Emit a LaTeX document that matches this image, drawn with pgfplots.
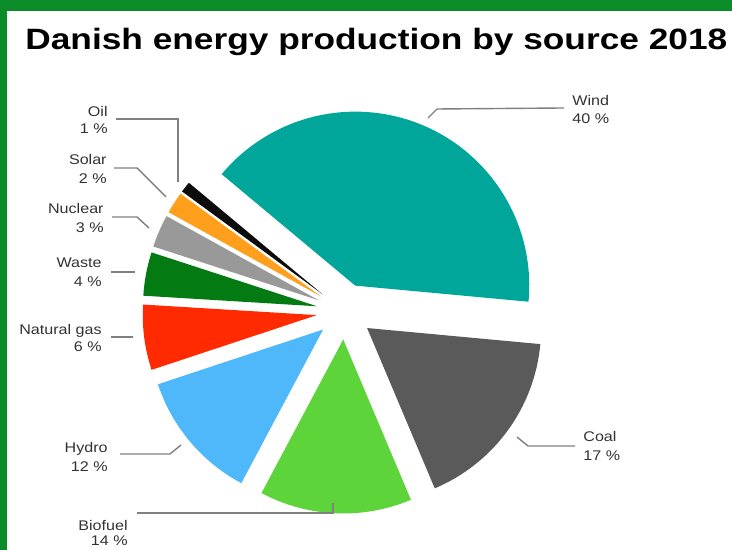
\documentclass[border=0pt]{standalone}
\usepackage{pgfplots}
\pgfplotsset{compat=1.18}
\usepackage{fontspec}
\setmainfont{Liberation Sans}
\newfontfamily\titfont[FakeStretch=1.2]{Liberation Sans}
\newfontfamily\labfont[FakeStretch=1.15]{Liberation Sans}
\definecolor{bandgreen}{RGB}{12,140,40}
\definecolor{windc}{RGB}{0,166,154}
\definecolor{coalc}{RGB}{90,90,90}
\definecolor{bioc}{RGB}{92,212,58}
\definecolor{hydroc}{RGB}{78,184,250}
\definecolor{gasc}{RGB}{255,42,0}
\definecolor{wastec}{RGB}{4,122,18}
\definecolor{nucc}{RGB}{153,153,153}
\definecolor{solarc}{RGB}{255,159,28}
\definecolor{oilc}{RGB}{12,12,12}
\definecolor{leadc}{RGB}{128,128,128}
\definecolor{labc}{RGB}{51,51,51}
\begin{document}
\begin{tikzpicture}
\begin{axis}[
  x=0.5pt, y=0.5pt,
  xmin=0, xmax=732, ymin=0, ymax=550,
  hide axis, clip=false,
]
% background
\fill[white] (axis cs:0,0) rectangle (axis cs:732,550);
\fill[bandgreen] (axis cs:0,0) rectangle (axis cs:7.3,550);
\fill[bandgreen] (axis cs:0,539) rectangle (axis cs:732,550);
% title
\node[anchor=base west, inner sep=0pt, text=black] at (axis cs:25,500.5)
  {\titfont\bfseries\fontsize{14.7}{16}\selectfont Danish energy production by source 2018};
% pie slices (percentages, counter-clockwise from Wind)
\xdef\curang{-5.3}
\foreach \p/\col in {40/windc,1/oilc,2/solarc,3/nucc,4/wastec,6/gasc,12/hydroc,14/bioc,17/coalc}{
  \pgfmathsetmacro\aA{\curang}
  \pgfmathsetmacro\aB{\curang+\p*360/99}
  \pgfmathsetmacro\aM{(\aA+\aB)/2}
  \pgfmathsetmacro\px{344.5+28*cos(\aM)}
  \pgfmathsetmacro\py{238.5+28*sin(\aM)}
  \edef\doslice{\noexpand\fill[\col] (axis cs:\px,\py) -- ++(\aA:87pt) arc[start angle=\aA,end angle=\aB,radius=87pt] -- cycle;}
  \doslice
  \xdef\curang{\aB}
}
% leader lines
\begin{scope}[leadc, line width=0.7pt]
\draw (axis cs:564,442) -- (axis cs:437,441) -- (axis cs:428,432);
\draw (axis cs:575,104) -- (axis cs:528,104) -- (axis cs:517,113);
\draw (axis cs:116,431) -- (axis cs:178,431) -- (axis cs:178,368);
\draw (axis cs:114,382) -- (axis cs:137,382) -- (axis cs:166,353);
\draw (axis cs:112,333) -- (axis cs:137,333) -- (axis cs:149,322);
\draw (axis cs:111,278) -- (axis cs:135,278);
\draw (axis cs:111,213) -- (axis cs:133,213);
\draw (axis cs:120,96) -- (axis cs:170,96) -- (axis cs:181,105);
\draw (axis cs:137,37) -- (axis cs:333,37) -- (axis cs:333,47);
\end{scope}
% labels
\begin{scope}[every node/.style={inner sep=0pt, text=labc, font=\labfont\fontsize{7}{8.4}\selectfont}]
\node[anchor=base west] at (axis cs:572,444) {Wind};
\node[anchor=base west] at (axis cs:572,426) {40 \%};
\node[anchor=base west] at (axis cs:583,108) {Coal};
\node[anchor=base west] at (axis cs:583,89) {17 \%};
\node[anchor=base east] at (axis cs:108,433) {Oil};
\node[anchor=base east] at (axis cs:108,416) {1 \%};
\node[anchor=base east] at (axis cs:107,385) {Solar};
\node[anchor=base east] at (axis cs:107,366) {2 \%};
\node[anchor=base east] at (axis cs:104,336) {Nuclear};
\node[anchor=base east] at (axis cs:104,317) {3 \%};
\node[anchor=base east] at (axis cs:102,282) {Waste};
\node[anchor=base east] at (axis cs:102,263) {4 \%};
\node[anchor=base east] at (axis cs:102,215) {Natural gas};
\node[anchor=base east] at (axis cs:102,198) {6 \%};
\node[anchor=base east] at (axis cs:108,97) {Hydro};
\node[anchor=base east] at (axis cs:108,78) {12 \%};
\node[anchor=base east] at (axis cs:128,19) {Biofuel};
\node[anchor=base east] at (axis cs:128,4) {14 \%};
\end{scope}
\end{axis}
\end{tikzpicture}
\end{document}
